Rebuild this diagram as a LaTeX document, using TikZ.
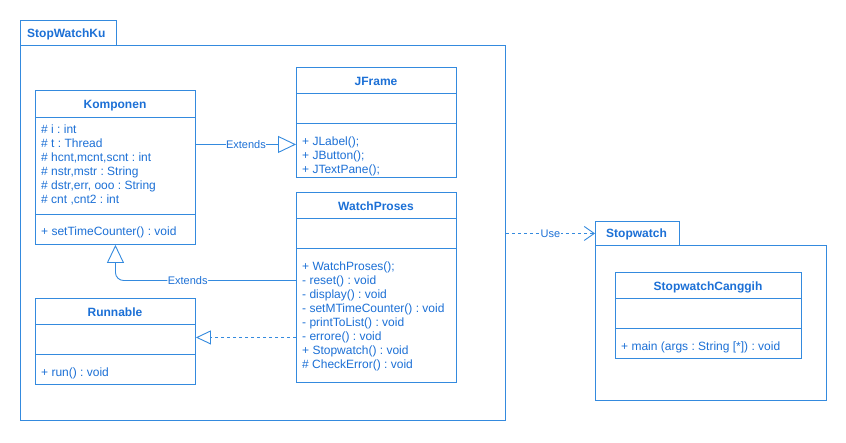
\documentclass[tikz,border=0pt]{standalone}
\usepackage{fontspec}
\setmainfont{Liberation Sans}
\usetikzlibrary{arrows.meta}
\definecolor{txtblue}{RGB}{28,112,214}
\definecolor{lineblue}{RGB}{52,138,222}
\frenchspacing
\begin{document}
\begin{tikzpicture}[x=1pt,y=-1pt,
  box/.style={draw=lineblue,line width=0.9pt,rectangle,inner sep=0pt,anchor=north west,fill=white},
  sep/.style={draw=lineblue,line width=0.9pt},
  ttl/.style={text=txtblue,font=\fontsize{12}{14}\selectfont\bfseries\frenchspacing,anchor=base,inner sep=0pt},
  mem/.style={text=txtblue,font=\fontsize{12}{14}\selectfont\frenchspacing,anchor=base west,inner sep=0pt},
  lbl/.style={text=txtblue,font=\fontsize{11}{13}\selectfont,fill=white,inner sep=0.5pt},
  conn/.style={draw=lineblue,line width=0.9pt},
  gen/.style={conn,-{Triangle[open,length=18pt,width=17pt,fill=white]}},
  real/.style={conn,dash pattern=on 3pt off 3pt,-{Triangle[open,length=15pt,width=14pt,fill=white]}},
  usearr/.style={conn,dash pattern=on 3pt off 3pt,-{Straight Barb[length=10pt,width=14pt]}}
]
\useasboundingbox (0,0) rectangle (846,442);

% package StopWatchKu
\node[box,minimum width=96pt,minimum height=25pt] (pkgtab) at (20,20) {};
\node[box,minimum width=485pt,minimum height=375pt] (pkg) at (20,45) {};
\node[ttl,anchor=base west] (pkgname) at (27,37) {StopWatchKu};

% package Stopwatch
\node[box,minimum width=84pt,minimum height=24pt] (swtab) at (595,221) {};
\node[box,minimum width=231pt,minimum height=155pt] (sw) at (595,245) {};
\node[ttl,anchor=base west] (swname) at (606,237) {Stopwatch};

% Komponen
\node[box,minimum width=160pt,minimum height=154pt] (komp) at (35,90) {};
\draw[sep] (35,117) -- (195,117);
\draw[sep] (35,214) -- (195,214);
\node[ttl] (kompt) at (115,108) {Komponen};
\foreach \t [count=\i] in {{\# i : int},{\# t : Thread},{\# hcnt,mcnt,scnt : int},{\# nstr,mstr : String},{\# dstr,err, ooo : String},{\# cnt ,cnt2 : int}}
  \node[mem] (ka\i) at (41,{133+14*(\i-1)}) {\t};
\node[mem] (km1) at (41,235) {+ setTimeCounter() : void};

% JFrame
\node[box,minimum width=160pt,minimum height=110pt] (jf) at (296,67) {};
\draw[sep] (296,93) -- (456,93);
\draw[sep] (296,123) -- (456,123);
\node[ttl] (jft) at (376,85) {JFrame};
\foreach \t [count=\i] in {{+ JLabel();},{+ JButton();},{+ JTextPane();}}
  \node[mem] (jm\i) at (302,{145+14*(\i-1)}) {\t};

% WatchProses
\node[box,minimum width=160pt,minimum height=190pt] (wp) at (296,192) {};
\draw[sep] (296,218) -- (456,218);
\draw[sep] (296,248) -- (456,248);
\node[ttl] (wpt) at (376,210) {WatchProses};
\foreach \t [count=\i] in {{+ WatchProses();},{- reset() : void},{- display() : void},{- setMTimeCounter() : void},{- printToList() : void},{- errore() : void},{+ Stopwatch() : void},{\# CheckError() : void}}
  \node[mem] (wm\i) at (302,{270+14*(\i-1)}) {\t};

% Runnable
\node[box,minimum width=160pt,minimum height=86pt] (rn) at (35,298) {};
\draw[sep] (35,324) -- (195,324);
\draw[sep] (35,354) -- (195,354);
\node[ttl] (rnt) at (115,316) {Runnable};
\node[mem] (rm1) at (41,376) {+ run() : void};

% StopwatchCanggih
\node[box,minimum width=186pt,minimum height=86pt] (sc) at (615,272) {};
\draw[sep] (615,298) -- (801,298);
\draw[sep] (615,328) -- (801,328);
\node[ttl] (sct) at (708,290) {StopwatchCanggih};
\node[mem] (sm1) at (621,350) {+ main (args : String [*]) : void};

% connectors
\coordinate (e1) at ([yshift=23pt]komp.east);
\draw[gen] (e1) -- node[lbl] {Extends} (jf.west |- e1);

\coordinate (e2) at ([yshift=7pt]wp.west);
\draw[gen,rounded corners=8pt] (e2) -- node[lbl,pos=0.6] {Extends} (komp.south |- e2) -- (komp.south);

\coordinate (r1) at ([yshift=-50pt]wp.west);
\draw[real] (r1) -- (rn.east |- r1);

\coordinate (u1) at (pkg.east |- swtab.west);
\draw[usearr] (u1) -- node[lbl] {Use} (swtab.west);
\end{tikzpicture}
\end{document}
